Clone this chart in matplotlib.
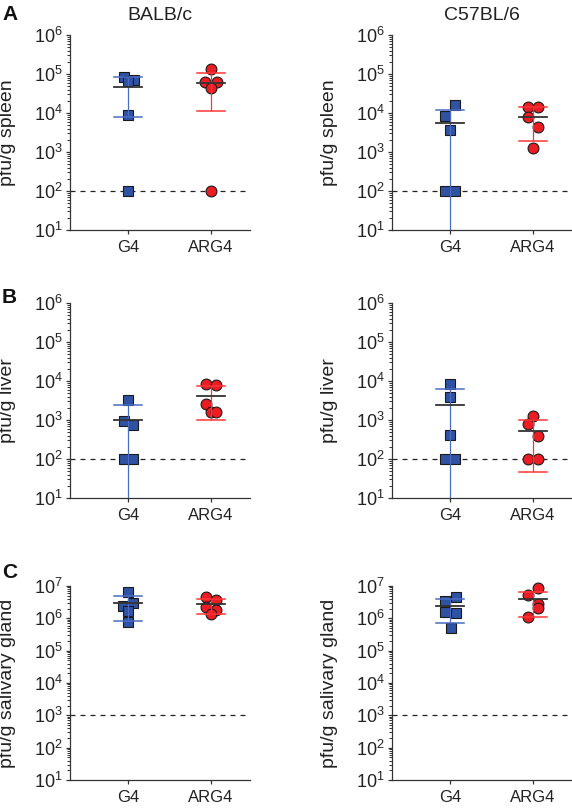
import numpy as np
import matplotlib
matplotlib.use('Agg')
import matplotlib.pyplot as plt
from matplotlib.ticker import FixedLocator, NullFormatter, FixedFormatter

plt.rcParams['font.family'] = ['Liberation Sans', 'DejaVu Sans']
plt.rcParams['mathtext.fontset'] = 'custom'
plt.rcParams['mathtext.rm'] = 'Liberation Sans'
plt.rcParams['mathtext.it'] = 'Liberation Sans:italic'
plt.rcParams['mathtext.bf'] = 'Liberation Sans:bold'
plt.rcParams['lines.scale_dashes'] = False

# ---------------- data ----------------
groups = ['G4', 'ARG4']
strains = ['BALB/c', 'C57BL/6']
organ_labels = ['pfu/g spleen', 'pfu/g liver', 'pfu/g salivary gland']
panel_letters = ['A', 'B', 'C']
detection_limits = [1e2, 1e2, 1e3]
decade_exponents = [[1, 2, 3, 4, 5, 6], [1, 2, 3, 4, 5, 6], [1, 2, 3, 4, 5, 6, 7]]

# spleen
spleen_balb_g4 = [82000, 72000, 68000, 9000, 100]
spleen_balb_arg4 = [134000, 63000, 63000, 43000, 100]
spleen_c57_g4 = [16000, 8300, 3600, 100, 100]
spleen_c57_arg4 = [14500, 14500, 7800, 4500, 1230]
# liver
liver_balb_g4 = [3200, 970, 740, 100, 100]
liver_balb_arg4 = [8400, 7700, 2570, 1600, 1600]
liver_c57_g4 = [8400, 3800, 405, 100, 100]
liver_c57_arg4 = [1290, 800, 400, 100, 100]
# salivary gland
sg_balb_g4 = [6.4e6, 3.0e6, 2.4e6, 1.7e6, 7.9e5]
sg_balb_arg4 = [4.47e6, 3.7e6, 2.3e6, 1.8e6, 1.36e6]
sg_c57_g4 = [4.7e6, 3.4e6, 1.6e6, 1.43e6, 5.2e5]
sg_c57_arg4 = [8.9e6, 5.3e6, 2.7e6, 2.1e6, 1.12e6]

# mean line, lower and upper error-bar ends (10 = reaches axis bottom)
spleen_balb_stats = {'mean': [47000, 60000], 'low': [8000, 11000], 'high': [85000, 108000]}
spleen_c57_stats = {'mean': [5400, 8100], 'low': [10, 1950], 'high': [12000, 14500]}
liver_balb_stats = {'mean': [1000, 4200], 'low': [10, 980], 'high': [2400, 7300]}
liver_c57_stats = {'mean': [2400, 510], 'low': [10, 46], 'high': [6300, 980]}
sg_balb_stats = {'mean': [3.0e6, 2.76e6], 'low': [8.4e5, 1.33e6], 'high': [5.0e6, 4.0e6]}
sg_c57_stats = {'mean': [2.45e6, 4.0e6], 'low': [7.0e5, 1.07e6], 'high': [3.95e6, 6.7e6]}

# ---------------- layout (horizontal spread of points, styles) ----------------
jitter = {
    'spleen_balb': ([-0.05, 0.07, 0.0, 0.0, 0.0], [0.0, -0.07, 0.07, 0.0, 0.0]),
    'spleen_c57': ([0.06, -0.065, 0.0, -0.06, 0.06], [-0.06, 0.06, -0.06, 0.06, 0.0]),
    'liver_balb': ([0.0, -0.05, 0.06, -0.05, 0.06], [-0.06, 0.06, -0.06, 0.0, 0.06]),
    'liver_c57': ([0.0, 0.0, 0.0, -0.06, 0.06], [0.0, -0.06, 0.06, -0.06, 0.06]),
    'sg_balb': ([0.0, 0.065, -0.065, 0.0, 0.0], [-0.065, 0.06, -0.065, 0.06, 0.0]),
    'sg_c57': ([0.07, -0.06, -0.06, 0.07, 0.01], [0.06, -0.06, 0.06, 0.06, -0.06]),
}

panels = [
    [('spleen_balb', spleen_balb_g4, spleen_balb_arg4, spleen_balb_stats),
     ('spleen_c57', spleen_c57_g4, spleen_c57_arg4, spleen_c57_stats)],
    [('liver_balb', liver_balb_g4, liver_balb_arg4, liver_balb_stats),
     ('liver_c57', liver_c57_g4, liver_c57_arg4, liver_c57_stats)],
    [('sg_balb', sg_balb_g4, sg_balb_arg4, sg_balb_stats),
     ('sg_c57', sg_c57_g4, sg_c57_arg4, sg_c57_stats)],
]

marker_style = [dict(marker='s', color='#2f52a3', ms=7.4),
                dict(marker='o', color='#ec1c24', ms=7.8)]
err_colors = ['#4a6cc4', '#ff3535']
mean_color = '#333333'
axis_color = '#333333'

W, H = 572, 809
fig = plt.figure(figsize=(W / 100, H / 100), dpi=100)

col_left = [70, 392]
ax_w = 180
row_tb = [(35, 230), (303, 498), (586, 780)]
letter_y = [15, 297, 573]

cap_half = 0.17

for r in range(3):
    top, bot = row_tb[r]
    exps = decade_exponents[r]
    majors = [10.0 ** e for e in exps]
    minors = [m * 10.0 ** e for e in exps[:-1] for m in range(2, 10)]
    labels = [r'$\mathregular{10^{%d}}$' % e for e in exps]
    for c in range(2):
        key, g4, arg4, stats = panels[r][c]
        ax = fig.add_axes([col_left[c] / W, 1 - bot / H, ax_w / W, (bot - top) / H])
        ax.set_yscale('log')
        ax.set_ylim(majors[0], majors[-1])
        ax.set_xlim(0.301, 2.47)

        ax.axhline(detection_limits[r], color='#222222', lw=0.9, dashes=(3.6, 3.6), zorder=1)

        for gi, vals in enumerate([g4, arg4]):
            xs = (gi + 1) + np.array(jitter[key][gi])
            st = marker_style[gi]
            ax.plot(xs, vals, linestyle='none', marker=st['marker'], ms=st['ms'],
                    markerfacecolor=st['color'], markeredgecolor='#1a1a1a',
                    markeredgewidth=0.8, zorder=3, clip_on=False)
            x0 = gi + 1
            lo, hi, mn = stats['low'][gi], stats['high'][gi], stats['mean'][gi]
            ax.plot([x0, x0], [lo, hi], color=err_colors[gi], lw=0.9, zorder=4,
                    solid_capstyle='butt')
            ax.plot([x0 - cap_half, x0 + cap_half], [hi, hi], color=err_colors[gi], lw=1.1, zorder=4)
            if lo > majors[0]:
                ax.plot([x0 - cap_half, x0 + cap_half], [lo, lo], color=err_colors[gi], lw=1.1, zorder=4)
            ax.plot([x0 - cap_half, x0 + cap_half], [mn, mn], color=mean_color, lw=1.3, zorder=5)

        for s in ['top', 'right']:
            ax.spines[s].set_visible(False)
        for s in ['left', 'bottom']:
            ax.spines[s].set_color(axis_color)
            ax.spines[s].set_linewidth(0.9)

        ax.yaxis.set_major_locator(FixedLocator(majors))
        ax.yaxis.set_major_formatter(FixedFormatter(labels))
        ax.yaxis.set_minor_locator(FixedLocator(minors))
        ax.yaxis.set_minor_formatter(NullFormatter())
        ax.tick_params(axis='y', which='major', length=3.2, width=0.9, color=axis_color,
                       labelsize=13, pad=2, labelcolor='#222222')
        ax.tick_params(axis='y', which='minor', length=2.0, width=0.7, color=axis_color)
        ax.xaxis.set_major_locator(FixedLocator([1, 2]))
        ax.xaxis.set_major_formatter(FixedFormatter(groups))
        ax.tick_params(axis='x', which='major', length=3.2, width=0.9, color=axis_color,
                       labelsize=12, pad=4, labelcolor='#222222')
        ax.tick_params(axis='x', which='minor', length=0)

        ax.set_ylabel(organ_labels[r], fontsize=14, color='#222222')
        ax.yaxis.set_label_coords(-0.30, 0.5)

        if r == 0:
            fig.text((col_left[c] + ax_w / 2) / W, 1 - 15 / H, strains[c], ha='center',
                     va='center', fontsize=14, color='#222222')
    fig.text(2 / W, 1 - letter_y[r] / H, panel_letters[r], ha='left', va='center',
             fontsize=15, fontweight='bold', color='#111111')

fig.savefig('out.png', dpi=100)
